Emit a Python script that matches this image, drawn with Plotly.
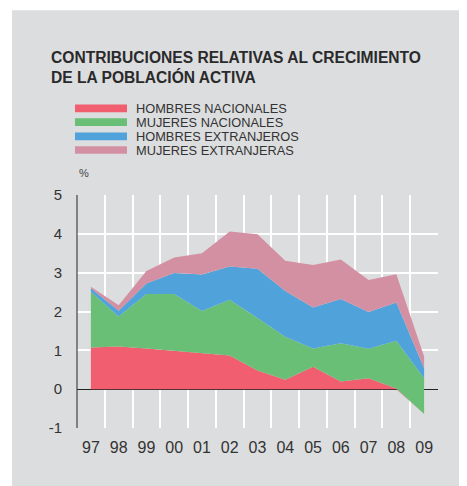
import plotly.graph_objects as go
import numpy as np

years = ["97", "98", "99", "00", "01", "02", "03", "04", "05", "06", "07", "08", "09"]
series_names = ["HOMBRES NACIONALES", "MUJERES NACIONALES", "HOMBRES EXTRANJEROS", "MUJERES EXTRANJERAS"]
# contributions (percentage points)
hombres_nac = [1.07, 1.10, 1.05, 0.99, 0.92, 0.87, 0.48, 0.24, 0.58, 0.20, 0.28, 0.02, -0.64]
mujeres_nac = [1.44, 0.77, 1.40, 1.46, 1.09, 1.43, 1.35, 1.11, 0.47, 0.98, 0.76, 1.23, 0.92]
hombres_ext = [0.09, 0.15, 0.27, 0.54, 0.94, 0.86, 1.27, 1.18, 1.05, 1.14, 0.95, 0.98, 0.26]
mujeres_ext = [0.04, 0.14, 0.32, 0.40, 0.55, 0.90, 0.89, 0.78, 1.10, 1.02, 0.82, 0.73, 0.30]
y_ticks = [-1, 0, 1, 2, 3, 4, 5]

colors = ["#f05e6f", "#6abf76", "#4fa3da", "#d490a3"]
BG = "#dcdddf"
OFF = 8  # page body margin
W, H = 467 - OFF, 486 - OFF
L, R, T, B = 77, 438, 195, 428.3  # plot area in window pixels

def px(x):
    return (x - L) / (R - L)

def py(y):
    return (B - y) / (B - T)

xs = np.arange(len(years))
series = [hombres_nac, mujeres_nac, hombres_ext, mujeres_ext]
base = np.minimum(np.array(hombres_nac), 0)
cum = np.cumsum(np.array(series), axis=0)

fig = go.Figure()
fig.add_trace(go.Scatter(x=xs, y=base, mode="lines", line=dict(width=0), showlegend=False, hoverinfo="skip"))
for i, name in enumerate(series_names):
    fig.add_trace(go.Scatter(x=xs, y=cum[i], mode="lines", name=name, line=dict(width=0, color=colors[i]),
                             fill="tonexty", fillcolor=colors[i], showlegend=False))

shapes = [
    dict(type="rect", xref="paper", yref="paper", x0=px(-20), x1=px(W + 20), y0=py(10), y1=py(-20),
         fillcolor="white", line=dict(width=0), layer="above"),
    dict(type="rect", xref="paper", yref="paper", x0=px(-20), x1=px(12), y0=py(H + 20), y1=py(-20),
         fillcolor="white", line=dict(width=0), layer="above"),
    dict(type="line", xref="paper", yref="paper", x0=0, x1=0, y0=0, y1=1,
         line=dict(color="#444444", width=1.2), layer="above"),
]
annotations = [
    dict(text="CONTRIBUCIONES RELATIVAS AL CRECIMIENTO<br>DE LA POBLACIÓN ACTIVA", xref="paper", yref="paper",
         x=px(49), y=py(67.5), xanchor="left", yanchor="middle", align="left", showarrow=False,
         font=dict(family="Liberation Sans", size=15.6, color="#2a2a2a", weight="bold")),
    dict(text="%", xref="paper", yref="paper", x=px(77), y=py(173), xanchor="left", yanchor="middle",
         showarrow=False, font=dict(family="Liberation Sans", size=11, color="#444444")),
]
row_y = [108.3, 122, 136.3, 150]
for i, name in enumerate(series_names):
    shapes.append(dict(type="rect", xref="paper", yref="paper", x0=px(75), x1=px(127),
                       y0=py(row_y[i] + 3.8), y1=py(row_y[i] - 3.8), fillcolor=colors[i], line=dict(width=0)))
    annotations.append(dict(text=name, xref="paper", yref="paper", x=px(134), y=py(row_y[i]),
                            xanchor="left", yanchor="middle", showarrow=False,
                            font=dict(family="Liberation Sans", size=12.8, color="#333333")))

fig.update_layout(
    width=W, height=H,
    margin=dict(l=L - OFF, r=W - (R - OFF), t=T - OFF, b=H - (B - OFF), pad=0),
    paper_bgcolor=BG, plot_bgcolor=BG,
    showlegend=False,
    shapes=shapes, annotations=annotations,
    font=dict(family="Liberation Sans", color="#333333"),
)
fig.update_xaxes(range=[-0.5, len(years) - 0.5], tickvals=xs, ticktext=years, showgrid=False,
                 zeroline=False, showline=False, ticks="", tickfont=dict(size=16, color="#333333"),
                 ticklabelstandoff=8,
                 minor=dict(tickvals=np.arange(-0.5, len(years), 1.0), showgrid=True, gridcolor="white", gridwidth=1.5))
fig.update_yaxes(range=[-1, 5], tickvals=y_ticks, ticktext=[str(v) for v in y_ticks], showgrid=True,
                 gridcolor="white", gridwidth=1.5, zeroline=True, zerolinecolor="#222222", zerolinewidth=1.2,
                 showline=False, ticks="", tickfont=dict(size=15, color="#333333"), ticklabelstandoff=14)

fig.write_html("out.html")
